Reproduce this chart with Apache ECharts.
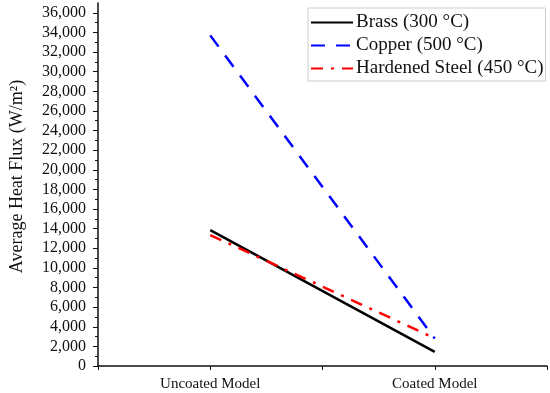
<!DOCTYPE html>
<html>
<head>
<meta charset="utf-8">
<script src="https://cdn.jsdelivr.net/npm/echarts@6/dist/echarts.min.js"></script>
<style>html,body{margin:0;padding:0;background:#fff}#c{width:550px;height:393px}</style>
</head>
<body>
<div id="c"></div>
<script>
var categories = ['Uncoated Model', 'Coated Model'];
var brass = [13850, 1430];
var copper = [33700, 2800];
var steel = [13350, 2830];
var seriesNames = ['Brass (300 °C)', 'Copper (500 °C)', 'Hardened Steel (450 °C)'];
var yMajorTicks = [0,2000,4000,6000,8000,10000,12000,14000,16000,18000,20000,22000,24000,26000,28000,30000,32000,34000,36000];
var yMinorTicks = [1000,3000,5000,7000,9000,11000,13000,15000,17000,19000,21000,23000,25000,27000,29000,31000,33000,35000];

var FONT = '"Liberation Serif", "Times New Roman", serif';
var chart = echarts.init(document.getElementById('c'));
var grid = {left: 95, right: 3, top: 3, bottom: 27};
chart.setOption({
  animation: false,
  grid: grid,
  legend: {
    orient: 'vertical',
    left: 308, top: 8,
    padding: [5, 2, 3, 2],
    itemGap: 4,
    itemWidth: 42, itemHeight: 14,
    borderColor: '#cccccc', borderWidth: 1,
    itemStyle: {opacity: 0},
    textStyle: {fontFamily: FONT, fontSize: 19, color: '#111', padding: [0, 0, 0, -2]},
    data: seriesNames
  },
  xAxis: [{
    type: 'category', data: categories, boundaryGap: true,
    axisLine: {lineStyle: {color: '#111', width: 1.5}},
    axisTick: {show: true, length: 4, lineStyle: {color: '#111'}},
    axisLabel: {fontFamily: FONT, fontSize: 15, color: '#111', margin: 11}
  }, {
    type: 'category', data: categories, boundaryGap: true, position: 'bottom',
    axisLine: {show: false},
    axisTick: {show: true, alignWithLabel: true, length: 4, lineStyle: {color: '#111'}},
    axisLabel: {show: false}
  }],
  yAxis: [{
    type: 'value', min: 0, max: 37000, interval: 1000,
    name: 'Average Heat Flux (W/m²)', nameLocation: 'middle', nameGap: 72,
    nameTextStyle: {fontFamily: FONT, fontSize: 18, color: '#111', padding: [0, 0, 0, 16]},
    axisLine: {show: true, lineStyle: {color: '#111', width: 1.5}},
    axisTick: {show: true, length: 5, customValues: yMajorTicks, lineStyle: {color: '#111'}},
    axisLabel: {fontFamily: FONT, fontSize: 16, color: '#111', margin: 12, customValues: yMajorTicks,
      formatter: function (v) { return v.toLocaleString('en-US'); }},
    splitLine: {show: false}
  }, {
    type: 'value', min: 0, max: 37000, interval: 1000, position: 'left',
    axisLine: {show: false},
    axisTick: {show: true, length: 3, customValues: yMinorTicks, lineStyle: {color: '#111'}},
    axisLabel: {show: false},
    splitLine: {show: false}
  }],
  series: [{
    name: seriesNames[0], type: 'line', data: brass, symbol: 'none',
    lineStyle: {color: '#000000', width: 2.5, type: 'solid'},
    itemStyle: {color: '#000000'}
  }, {
    name: seriesNames[1], type: 'line', data: copper, symbol: 'none',
    lineStyle: {color: '#0000ff', width: 2.5, type: [14, 11]},
    itemStyle: {color: '#0000ff'}
  }, {
    name: seriesNames[2], type: 'line', data: steel, symbol: 'none',
    lineStyle: {color: '#ff0000', width: 2.5, type: [12, 8, 3, 8]},
    itemStyle: {color: '#ff0000'}
  }]
});
</script>
</body>
</html>
